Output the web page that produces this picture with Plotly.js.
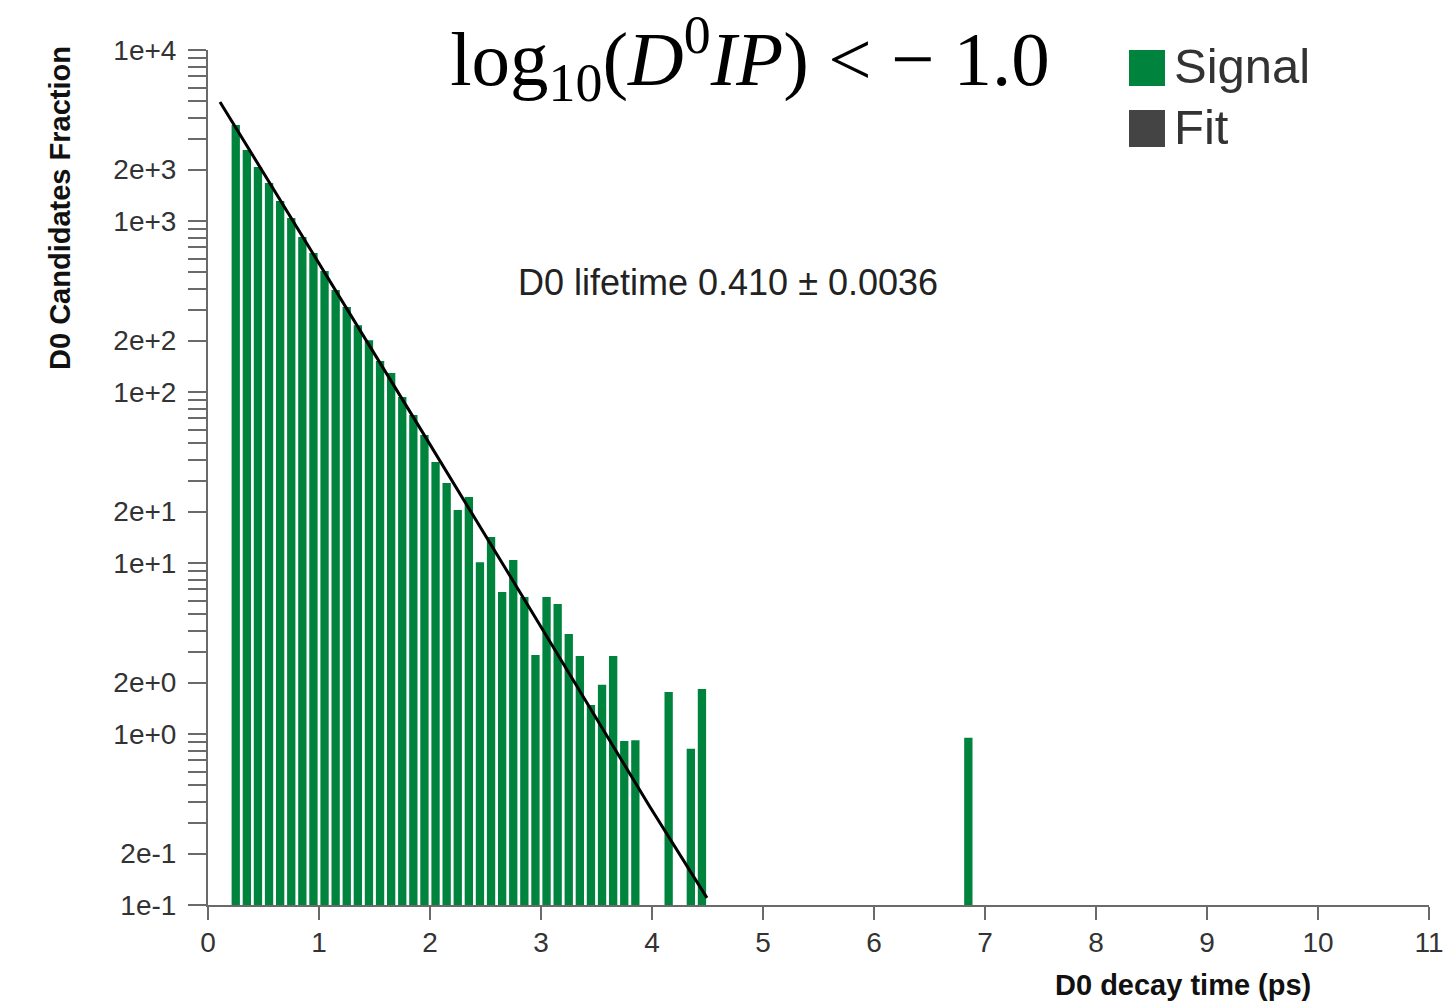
<!DOCTYPE html>
<html>
<head>
<meta charset="utf-8">
<script src="https://cdn.plot.ly/plotly-3.0.1.min.js"></script>
<style>
  html, body { margin: 0; padding: 0; background: #ffffff; }
  #chart { width: 1446px; height: 1003px; }
</style>
</head>
<body>
<div id="chart"></div>
<script>
// ---- data ----
const binCenters = [0.25, 0.35, 0.45, 0.55, 0.65, 0.75, 0.85, 0.95, 1.05, 1.15,
                    1.25, 1.35, 1.45, 1.55, 1.65, 1.75, 1.85, 1.95, 2.05, 2.15,
                    2.25, 2.35, 2.45, 2.55, 2.65, 2.75, 2.85, 2.95, 3.05, 3.15,
                    3.25, 3.35, 3.45, 3.55, 3.65, 3.75, 3.85, 4.15, 4.35, 4.45,
                    6.85];
const signalValues = [3640, 2600, 2070, 1668, 1309, 1042, 806, 650, 510, 395,
                      314, 246, 201, 152, 129, 93.5, 73.3, 56.1, 39.0, 29.4,
                      20.4, 24.3, 10.1, 14.2, 6.76, 10.4, 6.32, 2.90, 6.32, 5.75,
                      3.84, 2.86, 1.48, 1.94, 2.86, 0.91, 0.92, 1.76, 0.82, 1.83,
                      0.95];
const fitTimes  = [0.108, 1.910, 2.946, 3.982, 4.495];
const fitValues = [4966, 61.5, 4.83, 0.374, 0.11];

const xTickVals = [0, 1, 2, 3, 4, 5, 6, 7, 8, 9, 10, 11];
const yTickVals = [0.1, 0.2, 1, 2, 10, 20, 100, 200, 1000, 2000, 10000];
const yTickText = ["1e-1", "2e-1", "1e+0", "2e+0", "1e+1", "2e+1", "1e+2", "2e+2", "1e+3", "2e+3", "1e+4"];
const yMinorVals = [0.3, 0.4, 0.5, 0.6, 0.7, 0.8, 0.9,
                    3, 4, 5, 6, 7, 8, 9,
                    30, 40, 50, 60, 70, 80, 90,
                    300, 400, 500, 600, 700, 800, 900,
                    3000, 4000, 5000, 6000, 7000, 8000, 9000];

const seriesNames = ["Signal", "Fit"];
const seriesColors = ["#00843d", "#444444"];
const titleText = "log<sub>10</sub>(<i>D</i><sup>0</sup><i>IP</i>) < − 1.0";
const xTitle = "D0 decay time (ps)";
const yTitle = "D0 Candidates Fraction";
const noteText = "D0 lifetime 0.410 ± 0.0036";

// ---- traces ----
const traces = [
  {
    type: "bar",
    x: binCenters,
    y: signalValues,
    name: seriesNames[0],
    marker: { color: seriesColors[0], line: { width: 0 } },
    showlegend: false,
    hoverinfo: "x+y"
  },
  {
    type: "scatter",
    mode: "lines",
    x: fitTimes,
    y: fitValues,
    name: seriesNames[1],
    line: { color: "#000000", width: 3 },
    showlegend: false
  }
];

const sans = "Liberation Sans, Arial, Helvetica, sans-serif";
const axisGrey = "#6a6a6a";

const layout = {
  width: 1446,
  height: 1003,
  paper_bgcolor: "#ffffff",
  plot_bgcolor: "#ffffff",
  margin: { l: 208, r: 17, t: 50, b: 98, pad: 0 },
  bargap: 0.25,
  showlegend: false,
  font: { family: sans, color: "#333333", size: 28 },
  title: {
    text: titleText,
    font: { family: "Liberation Serif, Times New Roman, serif", size: 77, color: "#000000" },
    x: 750 / 1446,
    xanchor: "center",
    xref: "container",
    yref: "container",
    y: 1 - 58 / 1003,
    yanchor: "middle"
  },
  xaxis: {
    range: [0, 11],
    tickmode: "array",
    tickvals: xTickVals,
    ticks: "outside",
    ticklen: 13,
    tickwidth: 2,
    tickcolor: axisGrey,
    showline: true,
    linecolor: axisGrey,
    linewidth: 2,
    showgrid: false,
    zeroline: false,
    tickfont: { family: sans, size: 28, color: "#333333" },
    ticklabelstandoff: -2
  },
  yaxis: {
    type: "log",
    range: [-1, 4],
    tickmode: "array",
    tickvals: yTickVals,
    ticktext: yTickText,
    ticks: "outside",
    ticklen: 18,
    tickwidth: 2,
    tickcolor: axisGrey,
    minor: {
      tickmode: "array",
      tickvals: yMinorVals,
      ticks: "outside",
      ticklen: 18,
      tickwidth: 2,
      tickcolor: axisGrey,
      showgrid: false
    },
    showline: true,
    linecolor: axisGrey,
    linewidth: 2,
    showgrid: false,
    zeroline: false,
    tickfont: { family: sans, size: 28, color: "#333333" },
    ticklabelstandoff: 6
  },
  shapes: [
    { type: "rect", xref: "paper", yref: "paper",
      x0: (1129 - 208) / 1221, x1: (1165 - 208) / 1221,
      y0: (905 - 86) / 855, y1: (905 - 50) / 855,
      fillcolor: seriesColors[0], line: { width: 0 } },
    { type: "rect", xref: "paper", yref: "paper",
      x0: (1129 - 208) / 1221, x1: (1165 - 208) / 1221,
      y0: (905 - 147) / 855, y1: (905 - 110) / 855,
      fillcolor: seriesColors[1], line: { width: 0 } }
  ],
  annotations: [
    { text: noteText, xref: "paper", yref: "paper",
      x: (728 - 208) / 1221, y: (905 - 282) / 855,
      xanchor: "center", yanchor: "middle", showarrow: false,
      font: { family: sans, size: 36, color: "#222222" } },
    { text: seriesNames[0], xref: "paper", yref: "paper",
      x: (1172 - 208) / 1221, y: (905 - 66) / 855,
      xanchor: "left", yanchor: "middle", showarrow: false,
      font: { family: sans, size: 49, color: "#333333" } },
    { text: seriesNames[1], xref: "paper", yref: "paper",
      x: (1172 - 208) / 1221, y: (905 - 127) / 855,
      xanchor: "left", yanchor: "middle", showarrow: false,
      font: { family: sans, size: 49, color: "#333333" } },
    { text: "<b>" + xTitle + "</b>", xref: "paper", yref: "paper",
      x: (1183 - 208) / 1221, y: (905 - 985) / 855,
      xanchor: "center", yanchor: "middle", showarrow: false,
      font: { family: sans, size: 29, color: "#111111" } },
    { text: "<b>" + yTitle + "</b>", xref: "paper", yref: "paper",
      x: (60 - 208) / 1221, y: (905 - 208) / 855,
      xanchor: "center", yanchor: "middle", showarrow: false, textangle: -90,
      font: { family: sans, size: 29, color: "#111111" } }
  ]
};

Plotly.newPlot("chart", traces, layout, { displayModeBar: false, staticPlot: true });
</script>
</body>
</html>
